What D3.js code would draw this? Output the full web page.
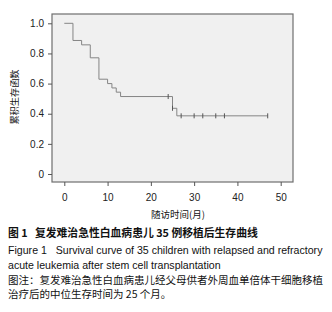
<!DOCTYPE html>
<html>
<head>
<meta charset="utf-8">
<script src="https://cdn.jsdelivr.net/npm/d3@7"></script>
<style>
  body { margin: 0; background: #fff; }
  svg { display: block; }
  .tick text { font-family: "Liberation Sans", Arial, sans-serif; font-size: 10px; fill: #222; }
  .cap { font-family: "Noto Sans CJK SC", sans-serif; fill: #111; }
  .en { font-family: "Liberation Sans", Arial, sans-serif; fill: #111; }
</style>
</head>
<body>
<div id="graph"></div>
<script>
// survival steps
const stepTimes = [0, 2, 4, 6, 8, 10, 11, 12, 13, 25, 26];
const survival = [1.0, 0.886, 0.857, 0.771, 0.629, 0.600, 0.571, 0.543, 0.514, 0.436, 0.386];
const endTime = 47;
const censorTimes = [24, 25, 27, 30, 32, 35, 37, 47];
const xTicks = [0, 10, 20, 30, 40, 50];
const yTicks = [0, 0.2, 0.4, 0.6, 0.8, 1.0];

const width = 332, height = 312;
const box = {left: 52, top: 14, right: 293, bottom: 182};

const svg = d3.select("#graph").append("svg")
  .attr("width", width).attr("height", height);

const x = d3.scaleLinear().domain([0, 50]).range([64.3, 280.7]);
const y = d3.scaleLinear().domain([0, 1]).range([174, 23.3]);

// plot frame
svg.append("rect")
  .attr("x", box.left).attr("y", box.top)
  .attr("width", box.right - box.left).attr("height", box.bottom - box.top)
  .attr("fill", "#f0f0f0").attr("stroke", "#6e6e6e").attr("stroke-width", 1.2);

// axes
const leftAxis = svg.append("g").attr("transform", `translate(${box.left},0)`)
  .call(d3.axisLeft(y).tickValues(yTicks).tickSize(4).tickPadding(4)
    .tickFormat(d => d === 0 ? "0" : d3.format(".1f")(d)));
const bottomAxis = svg.append("g").attr("transform", `translate(0,${box.bottom})`)
  .call(d3.axisBottom(x).tickValues(xTicks).tickSize(4).tickPadding(8));
[leftAxis, bottomAxis].forEach(g => {
  g.select(".domain").remove();
  g.selectAll(".tick line").attr("stroke", "#555");
});

// survival curve
const pts = stepTimes.map((t, i) => [t, survival[i]]);
pts.push([endTime, survival[survival.length - 1]]);
svg.append("path")
  .attr("d", d3.line().x(d => x(d[0])).y(d => y(d[1])).curve(d3.curveStepAfter)(pts))
  .attr("fill", "none").attr("stroke", "#858585").attr("stroke-width", 1);

// censor marks
const survAt = t => survival[d3.bisectRight(stepTimes, t) - 1];
svg.selectAll(".censor").data(censorTimes).join("line")
  .attr("class", "censor")
  .attr("x1", d => x(d)).attr("x2", d => x(d))
  .attr("y1", d => y(survAt(d)) - 2.5).attr("y2", d => y(survAt(d)) + 2.5)
  .attr("stroke", "#555").attr("stroke-width", 1);

// axis titles
svg.append("text").attr("class", "cap")
  .attr("transform", "translate(18,97) rotate(-90)")
  .attr("text-anchor", "middle").attr("font-size", 9.2).text("累积生存函数");
svg.append("text").attr("class", "cap")
  .attr("x", 178).attr("y", 218)
  .attr("text-anchor", "middle").attr("font-size", 9.5).text("随访时间(月)");

// caption
svg.append("text").attr("class", "cap")
  .attr("x", 8).attr("y", 237).attr("font-size", 10.8).attr("font-weight", "bold")
  .attr("xml:space", "preserve")
  .text("图 1   复发难治急性白血病患儿 35 例移植后生存曲线");
svg.append("text").attr("class", "en")
  .attr("x", 8).attr("y", 254).attr("font-size", 10.6)
  .attr("xml:space", "preserve")
  .text("Figure 1   Survival curve of 35 children with relapsed and refractory");
svg.append("text").attr("class", "en")
  .attr("x", 8).attr("y", 269).attr("font-size", 10.6)
  .text("acute leukemia after stem cell transplantation");
svg.append("text").attr("class", "cap")
  .attr("x", 8).attr("y", 284).attr("font-size", 10.5)
  .text("图注：复发难治急性白血病患儿经父母供者外周血单倍体干细胞移植");
svg.append("text").attr("class", "cap")
  .attr("x", 8).attr("y", 298).attr("font-size", 10.5)
  .text("治疗后的中位生存时间为 25 个月。");
</script>
</body>
</html>
